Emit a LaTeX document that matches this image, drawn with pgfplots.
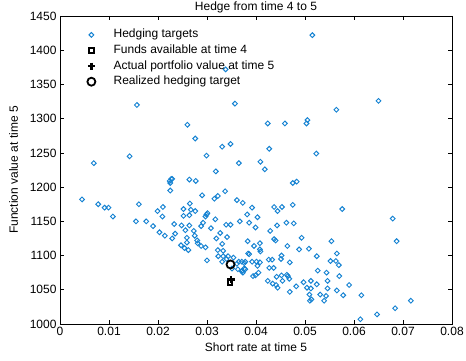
\documentclass[border=0pt]{standalone}
\usepackage{fontspec}
\setmainfont{Liberation Sans}
\usepackage{pgfplots}
\usepackage{pgfplotstable}
\pgfplotsset{compat=1.18}
\definecolor{targetblue}{RGB}{20,130,210}

% simulated hedging targets: short rate vs. function value
\pgfplotstableread{
x y
0.0515 1422
0.0338 1372
0.0157 1320
0.0357 1322
0.0564 1313
0.0650 1326
0.0260 1291
0.0276 1271
0.0331 1259
0.0348 1263
0.0299 1246
0.0069 1235
0.0142 1245
0.0365 1235
0.0409 1237
0.0318 1223
0.0224 1209
0.0227 1212
0.0229 1212
0.0225 1206
0.0264 1211
0.0277 1209
0.0225 1195
0.0290 1188
0.0337 1194
0.0315 1183
0.0322 1187
0.0361 1181
0.0373 1177
0.0392 1170
0.0045 1182
0.0078 1175
0.0091 1170
0.0099 1170
0.0108 1157
0.0161 1175
0.0199 1165
0.0210 1171
0.0209 1157
0.0252 1168
0.0265 1176
0.0267 1167
0.0276 1165
0.0252 1158
0.0264 1159
0.0299 1160
0.0301 1162
0.0297 1157
0.0317 1153
0.0382 1160
0.0403 1156
0.0424 1293
0.0459 1293
0.0503 1293
0.0505 1298
0.0427 1256
0.0523 1249
0.0418 1226
0.0475 1206
0.0483 1208
0.0437 1171
0.0453 1171
0.0444 1165
0.0475 1174
0.0576 1168
0.0679 1154
0.0367 1150
0.0386 1148
0.0399 1141
0.0429 1136
0.0443 1144
0.0462 1148
0.0477 1147
0.0383 1121
0.0396 1114
0.0408 1118
0.0437 1124
0.0440 1122
0.0464 1114
0.0493 1126
0.0554 1121
0.0687 1121
0.0488 1109
0.0508 1110
0.0384 1103
0.0386 1102
0.0408 1109
0.0409 1106
0.0524 1099
0.0565 1103
0.0452 1100
0.0451 1095
0.0371 1091
0.0376 1089
0.0378 1080
0.0371 1077
0.0373 1075
0.0392 1091
0.0401 1091
0.0408 1090
0.0403 1085
0.0405 1075
0.0394 1070
0.0399 1071
0.0426 1094
0.0433 1094
0.0427 1082
0.0436 1082
0.0469 1090
0.0552 1092
0.0563 1092
0.0569 1086
0.0544 1075
0.0570 1070
0.0526 1078
0.0442 1069
0.0452 1071
0.0463 1072
0.0465 1070
0.0468 1066
0.0424 1063
0.0434 1059
0.0441 1057
0.0444 1053
0.0454 1063
0.0469 1047
0.0482 1055
0.0497 1061
0.0512 1063
0.0524 1058
0.0546 1063
0.0546 1052
0.0565 1049
0.0590 1057
0.0504 1053
0.0512 1052
0.0509 1043
0.0513 1036
0.0510 1034
0.0531 1043
0.0543 1041
0.0539 1034
0.0578 1042
0.0615 1042
0.0613 1007
0.0647 1014
0.0684 1023
0.0716 1034
0.0155 1150
0.0176 1150
0.0190 1143
0.0203 1134
0.0214 1129
0.0233 1146
0.0235 1132
0.0229 1125
0.0248 1144
0.0264 1144
0.0256 1137
0.0259 1126
0.0259 1119
0.0247 1115
0.0254 1111
0.0262 1108
0.0273 1136
0.0275 1129
0.0280 1122
0.0281 1118
0.0288 1114
0.0297 1112
0.0288 1143
0.0292 1148
0.0308 1140
0.0327 1133
0.0319 1125
0.0331 1117
0.0339 1145
0.0348 1145
0.0341 1127
0.0300 1093
0.0322 1108
0.0333 1107
0.0323 1099
0.0331 1091
0.0333 1099
0.0343 1099
0.0354 1097
0.0340 1095
0.0351 1081
0.0361 1088
0.0365 1091
0.0376 1081
0.0378 1091
0.0363 1080
0.0372 1078
}\targets

\begin{document}
\begin{tikzpicture}[font=\fontsize{12}{14}\selectfont]
\begin{axis}[
  name=ax,
  scale only axis,
  width=392pt, height=308pt,
  xmin=0, xmax=0.08, ymin=1000, ymax=1450,
  xtick={0,0.01,0.02,0.03,0.04,0.05,0.06,0.07,0.08},
  ytick={1000,1050,1100,1150,1200,1250,1300,1350,1400,1450},
  scaled x ticks=false,
  /pgf/number format/assume math mode=true,
  xticklabel style={/pgf/number format/fixed, /pgf/number format/precision=2},
  yticklabel style={/pgf/number format/1000 sep={}},
  tick label style={font=\fontsize{12}{14}\selectfont},
  label style={font=\fontsize{12}{14}\selectfont},
  title style={font=\fontsize{12}{14}\selectfont, yshift=-6.5pt},
  ylabel style={yshift=5pt},
  tick align=inside, tick pos=both,
  major tick length=4pt,
  axis line style={line width=0.6pt},
  every tick/.style={black, line width=0.6pt},
  title={Hedge from time 4 to 5},
  xlabel={Short rate at time 5},
  ylabel={Function value at time 5},
  legend image code/.code={\path (0pt,0pt) (25pt,0pt); \draw[#1] plot coordinates {(6pt,0pt)};},
  legend style={at={(0.0612,0.962)}, anchor=north west, draw=none, fill=none,
    inner sep=0pt, row sep=1.6pt, font=\fontsize{12}{14}\selectfont,
    nodes={inner ysep=1pt, text height=9pt, text depth=3pt}},
  legend cell align=left,
]
\addplot[only marks, mark=square, mark size=1.7pt, color=targetblue, line width=0.95pt,
  mark options={rotate=45}] table {\targets};
\addlegendentry{Hedging targets}
\addplot[only marks, mark=square, mark size=2.3pt, line width=2pt, black]
  coordinates {(0.0347,1061)};
\addlegendentry{Funds available at time 4}
\addplot[only marks, mark=+, mark size=3.6pt, line width=2.4pt, black]
  coordinates {(0.0349,1065)};
\addlegendentry{Actual portfolio value at time 5}
\addplot[only marks, mark=o, mark size=4pt, line width=1.8pt, black]
  coordinates {(0.0348,1087)};
\addlegendentry{Realized hedging target}
\end{axis}
\pgfresetboundingbox
\path ([xshift=-60pt,yshift=-36pt]ax.south west) rectangle ([xshift=14pt,yshift=16pt]ax.north east);
\end{tikzpicture}
\end{document}
